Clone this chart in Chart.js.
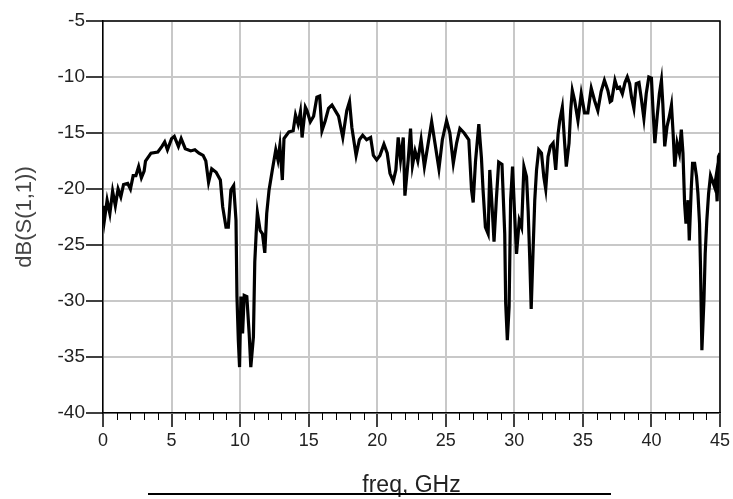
<!DOCTYPE html>
<html>
<head>
<meta charset="utf-8">
<script src="https://cdn.jsdelivr.net/npm/chart.js@4"></script>
<style>
  html, body { margin: 0; padding: 0; background: #fff; }
  #wrap { width: 733px; height: 499px; position: relative; }
</style>
</head>
<body>
<div id="wrap"><canvas id="s11"></canvas></div>
<script>
// Return loss sweep, frequency in GHz
const freqGHz = [
  0.00, 0.10, 0.30, 0.50, 0.70, 0.90, 1.10, 1.30, 1.50, 1.80, 2.00, 2.20, 2.40, 2.60, 2.80, 3.00,
  3.10, 3.50, 4.00, 4.30, 4.50, 4.70, 5.00, 5.20, 5.50, 5.70, 6.00, 6.40, 6.70, 7.00, 7.30, 7.50,
  7.70, 7.93, 8.25, 8.56, 8.73, 8.97, 9.14, 9.33, 9.53, 9.70, 9.77, 9.87, 9.96, 10.06, 10.18, 10.30,
  10.49, 10.66, 10.78, 10.97, 11.07, 11.17, 11.26, 11.46, 11.63, 11.80, 11.94, 12.11, 12.35, 12.60, 12.76, 12.90,
  13.08, 13.20, 13.56, 13.87, 14.04, 14.23, 14.40, 14.52, 14.76, 14.88, 15.12, 15.36, 15.60, 15.80, 15.97, 16.21,
  16.45, 16.70, 16.94, 17.18, 17.49, 17.78, 17.98, 18.15, 18.46, 18.70, 18.94, 19.23, 19.52, 19.72, 19.96, 20.20,
  20.49, 20.73, 20.93, 21.17, 21.36, 21.53, 21.70, 21.90, 22.02, 22.26, 22.43, 22.57, 22.76, 22.96, 23.20, 23.44,
  23.68, 23.97, 24.21, 24.50, 24.75, 25.06, 25.30, 25.55, 25.79, 26.03, 26.34, 26.68, 26.88, 27.00, 27.17, 27.41,
  27.60, 27.72, 27.89, 28.09, 28.21, 28.38, 28.52, 28.69, 28.86, 29.10, 29.30, 29.37, 29.49, 29.62, 29.73, 29.87,
  30.02, 30.16, 30.36, 30.53, 30.70, 30.89, 31.01, 31.13, 31.23, 31.37, 31.49, 31.62, 31.78, 31.98, 32.15, 32.29,
  32.46, 32.63, 32.83, 33.02, 33.19, 33.31, 33.50, 33.67, 33.79, 33.99, 34.11, 34.23, 34.40, 34.64, 34.88, 35.12,
  35.36, 35.61, 35.85, 36.09, 36.33, 36.57, 36.82, 36.99, 37.10, 37.34, 37.51, 37.68, 37.88, 38.07, 38.24, 38.41,
  38.55, 38.72, 38.89, 39.09, 39.28, 39.45, 39.62, 39.81, 40.00, 40.10, 40.25, 40.42, 40.58, 40.73, 40.83, 40.97,
  41.14, 41.31, 41.46, 41.58, 41.70, 41.87, 42.04, 42.18, 42.30, 42.42, 42.52, 42.67, 42.76, 42.91, 43.00, 43.15,
  43.29, 43.39, 43.51, 43.58, 43.68, 43.83, 43.92, 44.04, 44.17, 44.31, 44.46, 44.60, 44.70, 44.79, 44.89, 45.00
];

// dB(S(1,1)) at each frequency above
const s11dB = [
  -21.5, -22.8, -21.0, -22.2, -20.2, -21.5, -20.0, -20.7, -19.6, -19.5, -20.0, -18.8, -18.8, -18.0, -19.0, -18.4,
  -17.5, -16.8, -16.7, -16.2, -15.8, -16.5, -15.5, -15.3, -16.2, -15.5, -16.4, -16.6, -16.5, -16.8, -17.0, -17.5,
  -19.4, -18.2, -18.5, -19.2, -21.6, -23.4, -23.4, -20.1, -19.7, -22.8, -29.6, -33.5, -35.9, -29.6, -32.9, -29.5,
  -29.6, -32.9, -35.9, -33.2, -26.5, -24.0, -22.1, -23.7, -24.0, -25.7, -22.2, -20.1, -18.3, -16.5, -17.4, -16.1,
  -19.2, -15.5, -14.9, -14.8, -13.4, -14.2, -13.1, -15.4, -12.7, -13.0, -14.0, -13.5, -11.8, -11.7, -14.8, -13.9,
  -12.8, -12.5, -13.0, -13.5, -15.4, -13.0, -12.2, -14.5, -17.0, -15.6, -15.2, -15.6, -15.4, -17.0, -17.4, -17.0,
  -16.0, -16.8, -18.6, -19.3, -18.3, -15.4, -17.4, -15.4, -20.6, -17.4, -14.6, -17.9, -16.6, -17.5, -15.6, -18.0,
  -16.2, -14.0, -15.9, -18.2, -15.6, -13.9, -15.0, -17.7, -15.9, -14.6, -15.0, -15.6, -20.1, -21.2, -17.5, -14.2,
  -17.2, -20.1, -23.4, -24.0, -18.3, -21.6, -24.7, -20.9, -17.6, -17.8, -24.0, -30.2, -33.5, -30.5, -21.0, -18.0,
  -22.2, -25.8, -22.8, -23.4, -18.0, -18.9, -22.0, -26.4, -30.7, -25.4, -21.0, -18.3, -16.5, -16.8, -18.9, -20.0,
  -17.1, -16.2, -15.9, -18.3, -15.1, -13.9, -12.7, -15.9, -18.0, -15.9, -13.0, -11.2, -12.1, -13.9, -11.5, -13.2,
  -13.2, -11.0, -12.1, -13.0, -11.3, -10.3, -11.2, -12.2, -12.1, -10.3, -11.0, -10.9, -11.5, -10.5, -10.0, -10.6,
  -11.8, -12.8, -10.6, -10.5, -12.1, -13.7, -11.5, -10.0, -10.1, -12.6, -15.9, -13.5, -11.5, -10.3, -12.4, -16.2,
  -14.4, -13.5, -12.5, -15.0, -18.0, -15.9, -16.8, -14.7, -16.8, -21.3, -23.1, -21.0, -24.6, -19.8, -17.7, -17.7,
  -18.9, -20.4, -23.1, -27.0, -34.4, -29.9, -25.8, -22.8, -20.4, -18.8, -19.3, -19.8, -19.0, -21.1, -17.1, -16.8
];

const xMin = 0, xMax = 45, xMajor = 5, xMinor = 1;
const yMin = -40, yMax = -5, yMajor = 5;

const fontFamily = '"Liberation Sans", Arial, sans-serif';
const gridColor = '#c8c8c8';

// top/right frame, minor x ticks and the rule under the x title
const framePlugin = {
  id: 'frame',
  afterDraw(chart) {
    const { ctx, chartArea: a, scales } = chart;
    ctx.save();
    ctx.strokeStyle = '#000';
    ctx.lineWidth = 1.5;
    ctx.beginPath();
    ctx.moveTo(a.left, a.top);
    ctx.lineTo(a.right, a.top);
    ctx.lineTo(a.right, a.bottom);
    ctx.stroke();

    ctx.lineWidth = 1;
    ctx.beginPath();
    for (let v = xMin; v <= xMax; v += xMinor) {
      if (v % xMajor === 0) continue;
      const px = Math.round(scales.x.getPixelForValue(v)) + 0.5;
      ctx.moveTo(px, a.bottom);
      ctx.lineTo(px, a.bottom + 7);
    }
    ctx.stroke();

    ctx.lineWidth = 2;
    ctx.beginPath();
    ctx.moveTo(148, 494);
    ctx.lineTo(611, 494);
    ctx.stroke();
    ctx.restore();
  }
};

new Chart(document.getElementById('s11'), {
  type: 'line',
  data: {
    datasets: [{
      label: 'dB(S(1,1))',
      data: freqGHz.map((f, i) => ({ x: f, y: s11dB[i] })),
      borderColor: '#000',
      borderWidth: 3.2,
      pointRadius: 0,
      tension: 0,
      fill: false
    }]
  },
  options: {
    responsive: true,
    maintainAspectRatio: false,
    animation: false,
    layout: { padding: { top: 21, right: 10, left: 0, bottom: 0 } },
    plugins: {
      legend: { display: false },
      tooltip: { enabled: false }
    },
    scales: {
      x: {
        type: 'linear',
        min: xMin,
        max: xMax,
        afterFit: (s) => { s.height = 86; },
        ticks: {
          stepSize: xMajor,
          padding: 3,
          color: '#222',
          font: { family: fontFamily, size: 18 },
          maxRotation: 0
        },
        grid: { color: gridColor, lineWidth: 2, tickColor: '#000', tickLength: 14, tickWidth: 1.5 },
        border: { color: '#000', width: 1.5 },
        title: {
          display: true,
          text: 'freq, GHz',
          color: '#222',
          font: { family: fontFamily, size: 23 },
          padding: { top: 0, bottom: 0 }
        }
      },
      y: {
        min: yMin,
        max: yMax,
        afterFit: (s) => { s.width = 103; },
        ticks: {
          stepSize: yMajor,
          padding: 1,
          color: '#222',
          font: { family: fontFamily, size: 19 }
        },
        grid: { color: gridColor, lineWidth: 2, tickColor: '#000', tickLength: 17, tickWidth: 1.5 },
        border: { color: '#000', width: 1.5 },
        title: {
          display: true,
          text: 'dB(S(1,1))',
          color: '#444',
          font: { family: fontFamily, size: 22 },
          padding: { top: 12, bottom: 0 }
        }
      }
    }
  },
  plugins: [framePlugin]
});
</script>
</body>
</html>
